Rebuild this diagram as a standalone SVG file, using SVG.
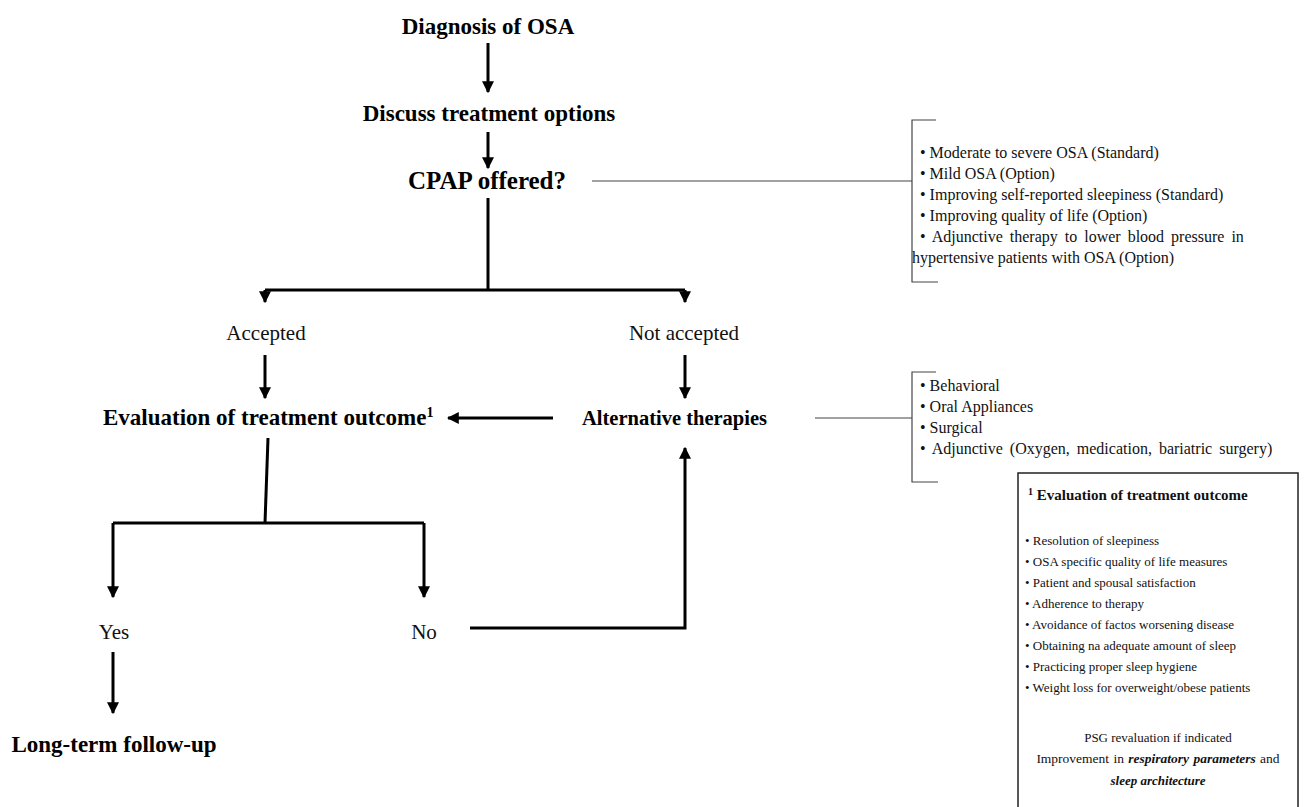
<svg xmlns="http://www.w3.org/2000/svg" width="1309" height="807" viewBox="0 0 1309 807">
<defs>
<marker id="ah" viewBox="0 0 10 10" refX="9" refY="5" markerWidth="4" markerHeight="4" orient="auto" markerUnits="strokeWidth">
<path d="M0,0 L10,5 L0,10 Z" fill="#000"/>
</marker>
<style>
.b{font-family:"Liberation Serif","Times New Roman",serif;font-weight:bold;font-size:23px;fill:#000}
.r{font-family:"Liberation Serif","Times New Roman",serif;font-size:21px;fill:#111}
.s{font-family:"Liberation Serif","Times New Roman",serif;font-size:16px;fill:#111}
.t{font-family:"Liberation Serif","Times New Roman",serif;font-size:13px;fill:#111}
.c{stroke:#000;stroke-width:3;fill:none}
.a{stroke:#000;stroke-width:3;fill:none;marker-end:url(#ah)}
.thin{stroke:#444;stroke-width:1.2;fill:none}
</style>
</defs>
<rect width="1309" height="807" fill="#fff"/>
<g id="connectors">
<line class="a" x1="488" y1="43" x2="488" y2="92"/>
<line class="a" x1="488" y1="132" x2="488" y2="168"/>
<polyline class="c" points="488,198 488,290"/>
<line class="c" x1="265" y1="290" x2="685" y2="290"/>
<polyline class="a" points="265,290 265,302"/>
<polyline class="a" points="685,290 685,302"/>
<line class="a" x1="265" y1="355" x2="265" y2="398"/>
<line class="a" x1="685" y1="355" x2="685" y2="398"/>
<line class="a" x1="553" y1="418" x2="448" y2="418"/>
<line class="c" x1="268" y1="438" x2="265" y2="523"/>
<line class="c" x1="113" y1="523" x2="424" y2="523"/>
<polyline class="a" points="113,523 113,597"/>
<polyline class="a" points="424,523 424,597"/>
<polyline class="a" points="470,628 685,628 685,448"/>
<line class="a" x1="113" y1="652" x2="113" y2="713"/>
<line class="thin" x1="592" y1="181" x2="912" y2="181"/>
<line class="thin" x1="815" y1="418" x2="912" y2="418"/>
</g>
<g id="n-diagnosis"><text class="b" x="488" y="34" text-anchor="middle">Diagnosis of OSA</text></g>
<g id="n-discuss"><text class="b" x="489" y="121" text-anchor="middle">Discuss treatment options</text></g>
<g id="n-cpap"><text class="b" x="487" y="189" text-anchor="middle" style="font-size:25px">CPAP offered?</text></g>
<g id="n-accepted"><text class="r" x="266" y="340" text-anchor="middle">Accepted</text></g>
<g id="n-notaccepted"><text class="r" x="684" y="340" text-anchor="middle">Not accepted</text></g>
<g id="n-evaluation"><text class="b" x="103" y="425">Evaluation of treatment outcome<tspan style="font-size:14px" dy="-8">1</tspan></text></g>
<g id="n-alternative"><text class="b" x="582" y="425" style="font-size:20.5px">Alternative therapies</text></g>
<g id="n-yes"><text class="r" x="114" y="639" text-anchor="middle">Yes</text></g>
<g id="n-no"><text class="r" x="424" y="639" text-anchor="middle">No</text></g>
<g id="n-longterm"><text class="b" x="114" y="752" text-anchor="middle">Long-term follow-up</text></g>
<g id="n-cpap-notes">
<path class="thin" d="M936,120 L912,120 L912,282 L938,282"/>
<text class="s" x="920" y="158">• Moderate to severe OSA (Standard)</text>
<text class="s" x="920" y="179">• Mild OSA (Option)</text>
<text class="s" x="920" y="200">• Improving self-reported sleepiness (Standard)</text>
<text class="s" x="920" y="221">• Improving quality of life (Option)</text>
<text class="s" x="920" y="242" word-spacing="3">• Adjunctive therapy to lower blood pressure in</text>
<text class="s" x="912" y="263">hypertensive patients with OSA (Option)</text>
</g>
<g id="n-alt-notes">
<path class="thin" d="M936,372 L912,372 L912,482 L938,482"/>
<text class="s" x="920" y="391">• Behavioral</text>
<text class="s" x="920" y="412">• Oral Appliances</text>
<text class="s" x="920" y="433">• Surgical</text>
<text class="s" x="920" y="454" word-spacing="3">• Adjunctive (Oxygen, medication, bariatric surgery)</text>
</g>
<g id="n-eval-box">
<rect x="1018" y="473" width="280" height="350" fill="none" stroke="#222" stroke-width="1.5"/>
<text class="t" x="1028" y="500" style="font-size:15px;font-weight:bold"><tspan style="font-size:10px" dy="-5">1</tspan><tspan dy="5"> Evaluation of treatment outcome</tspan></text>
<text class="t" x="1025" y="545">• Resolution of sleepiness</text>
<text class="t" x="1025" y="566">• OSA specific quality of life measures</text>
<text class="t" x="1025" y="587">• Patient and spousal satisfaction</text>
<text class="t" x="1025" y="608">• Adherence to therapy</text>
<text class="t" x="1025" y="629">• Avoidance of factos worsening disease</text>
<text class="t" x="1025" y="650">• Obtaining na adequate amount of sleep</text>
<text class="t" x="1025" y="671">• Practicing proper sleep hygiene</text>
<text class="t" x="1025" y="692">• Weight loss for overweight/obese patients</text>
<text class="t" x="1158" y="742" text-anchor="middle">PSG revaluation if indicated</text>
<text class="t" x="1158" y="763" text-anchor="middle" style="font-size:13.5px" word-spacing="1">Improvement in <tspan font-weight="bold" font-style="italic">respiratory parameters</tspan> and</text>
<text class="t" x="1158" y="785" text-anchor="middle" font-weight="bold" font-style="italic">sleep architecture</text>
</g>
</svg>
